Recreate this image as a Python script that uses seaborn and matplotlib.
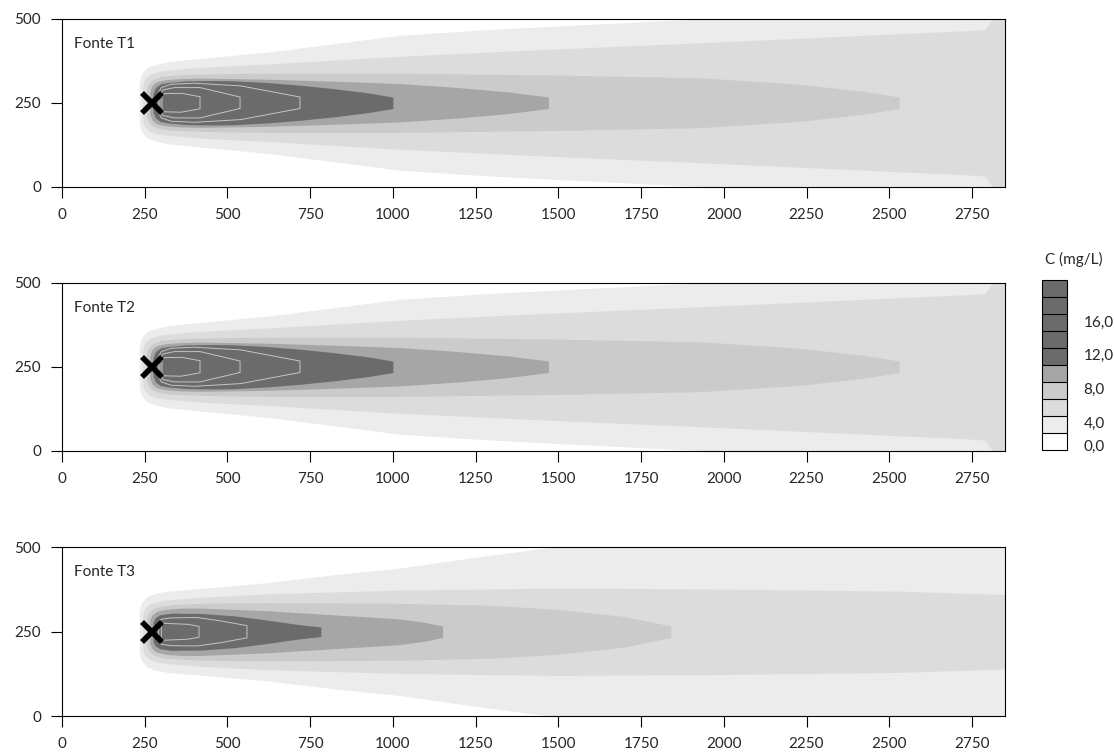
import matplotlib
matplotlib.use("Agg")
import matplotlib as mpl
import matplotlib.pyplot as plt
import seaborn as sns
from matplotlib.colors import ListedColormap, BoundaryNorm

# --- values ------------------------------------------------------------
panel_titles = ["Fonte T1", "Fonte T2", "Fonte T3"]
source_x, source_y = 272, 250
plume_axis = 250
x_ticks = [0, 250, 500, 750, 1000, 1250, 1500, 1750, 2000, 2250, 2500, 2750]
y_ticks = [0, 250, 500]
cbar_bounds = [0, 2, 4, 6, 8, 10, 12, 14, 16, 18, 20]
cbar_labels = ["0,0", "4,0", "8,0", "12,0", "16,0"]
# where the labels sit along the bar (they sit a little under the block edges)
cbar_label_pos = [0.6, 3.3, 7.2, 11.2, 15.1]

# filled bands (C >= level): x positions and half-widths about y=250
t1_c2_x = [233, 240, 255, 280, 320, 420, 620, 820, 1020, 1250, 1500, 1750, 2000, 2850]
t1_c2_hw = [60, 85, 103, 113, 122, 132, 150, 175, 200, 215, 228, 240, 252, 260]
t1_c4_x = [243, 250, 265, 290, 330, 420, 620, 1020, 1500, 1930, 2330, 2735, 2790, 2815, 2850]
t1_c4_hw = [50, 72, 85, 93, 98, 105, 115, 138, 160, 178, 196, 214, 218, 255, 260]
t1_c6_x = [255, 262, 275, 300, 340, 420, 620, 1020, 1500, 1930, 2230, 2430, 2530]
t1_c6_hw = [40, 58, 70, 78, 82, 85, 88, 88, 82, 74, 55, 33, 17]
t1_c8_x = [265, 272, 285, 310, 360, 420, 620, 820, 1020, 1200, 1350, 1470]
t1_c8_hw = [35, 52, 62, 68, 72, 73, 70, 64, 57, 45, 32, 17]
t1_c10_x = [275, 282, 295, 320, 377, 450, 520, 620, 720, 820, 920, 1000]
t1_c10_hw = [28, 45, 55, 60, 65, 66, 65, 60, 52, 42, 30, 17]
# contour lines inside the darkest band
t1_c12_x = [292, 300, 330, 400, 540, 719]
t1_c12_hw = [30, 45, 55, 58, 50, 17]
t1_c14_x = [296, 305, 340, 417, 538]
t1_c14_hw = [25, 38, 45, 45, 17]
t1_c16_x = [302, 310, 360, 417]
t1_c16_hw = [18, 27, 28, 18]

# T2 reads the same as T1 in the picture
t2_c2_x, t2_c2_hw = list(t1_c2_x), list(t1_c2_hw)
t2_c4_x, t2_c4_hw = list(t1_c4_x), list(t1_c4_hw)
t2_c6_x, t2_c6_hw = list(t1_c6_x), list(t1_c6_hw)
t2_c8_x, t2_c8_hw = list(t1_c8_x), list(t1_c8_hw)
t2_c10_x, t2_c10_hw = list(t1_c10_x), list(t1_c10_hw)
t2_c12_x, t2_c12_hw = list(t1_c12_x), list(t1_c12_hw)
t2_c14_x, t2_c14_hw = list(t1_c14_x), list(t1_c14_hw)
t2_c16_x, t2_c16_hw = list(t1_c16_x), list(t1_c16_hw)

t3_c2_x = [233, 240, 255, 280, 320, 420, 620, 820, 1020, 1250, 1500, 2850]
t3_c2_hw = [60, 85, 103, 113, 120, 128, 145, 168, 188, 220, 252, 260]
t3_c4_x = [243, 250, 265, 290, 330, 420, 620, 1020, 1500, 2000, 2530, 2850]
t3_c4_hw = [50, 70, 82, 90, 95, 102, 112, 123, 129, 126, 120, 110]
t3_c6_x = [255, 262, 275, 300, 340, 420, 620, 1020, 1300, 1500, 1700, 1840]
t3_c6_hw = [40, 56, 68, 76, 80, 84, 86, 84, 78, 66, 45, 17]
t3_c8_x = [265, 272, 285, 310, 360, 420, 620, 820, 1021, 1100, 1150]
t3_c8_hw = [35, 50, 60, 66, 70, 70, 62, 50, 38, 27, 17]
t3_c10_x = [275, 282, 295, 330, 420, 520, 609, 709, 782]
t3_c10_hw = [28, 42, 50, 55, 54, 47, 36, 22, 14]
t3_c12_x = [292, 300, 330, 408, 480, 559]
t3_c12_hw = [28, 37, 41, 42, 32, 18]
t3_c14_x = [300, 306, 380, 414]
t3_c14_hw = [18, 25, 22, 16]

# --- style ------------------------------------------------------------------
band_colors = ["#ececec", "#dcdcdc", "#cbcbcb", "#a6a6a6", "#6b6b6b"]
cbar_colors = ["#ffffff", "#ececec", "#dcdcdc", "#cbcbcb", "#a6a6a6",
               "#6b6b6b", "#6b6b6b", "#6b6b6b", "#6b6b6b", "#6b6b6b"]
line_color = "#c4c4c4"

sns.set_theme(style="white")
plt.rcParams["font.family"] = ["Lato", "DejaVu Sans"]
plt.rcParams["font.size"] = 11

panels = [
    ([(t1_c2_x, t1_c2_hw), (t1_c4_x, t1_c4_hw), (t1_c6_x, t1_c6_hw), (t1_c8_x, t1_c8_hw), (t1_c10_x, t1_c10_hw)],
     [(t1_c12_x, t1_c12_hw), (t1_c14_x, t1_c14_hw), (t1_c16_x, t1_c16_hw)]),
    ([(t2_c2_x, t2_c2_hw), (t2_c4_x, t2_c4_hw), (t2_c6_x, t2_c6_hw), (t2_c8_x, t2_c8_hw), (t2_c10_x, t2_c10_hw)],
     [(t2_c12_x, t2_c12_hw), (t2_c14_x, t2_c14_hw), (t2_c16_x, t2_c16_hw)]),
    ([(t3_c2_x, t3_c2_hw), (t3_c4_x, t3_c4_hw), (t3_c6_x, t3_c6_hw), (t3_c8_x, t3_c8_hw), (t3_c10_x, t3_c10_hw)],
     [(t3_c12_x, t3_c12_hw), (t3_c14_x, t3_c14_hw)]),
]

fig = plt.figure(figsize=(11.14, 7.53), dpi=100)
ax_rects = [[0.0557, 0.7517, 0.8465, 0.2237],
            [0.0557, 0.4011, 0.8465, 0.2237],
            [0.0557, 0.0485, 0.8465, 0.2250]]

for rect, title, (bands, lines) in zip(ax_rects, panel_titles, panels):
    ax = fig.add_axes(rect)
    for (xs, hw), col in zip(bands, band_colors):
        lo = [plume_axis - h for h in hw]
        hi = [plume_axis + h for h in hw]
        ax.fill_between(xs, lo, hi, color=col, lw=0, zorder=1)
    for xs, hw in lines:
        px = list(xs) + list(xs[::-1]) + [xs[0]]
        py = [plume_axis + h for h in hw] + [plume_axis - h for h in hw[::-1]] + [plume_axis + hw[0]]
        sns.lineplot(x=px, y=py, sort=False, estimator=None, color=line_color,
                     lw=0.7, ax=ax, zorder=2)
    ax.plot(source_x, source_y, marker="x", ms=15, mew=4, color="black", zorder=5)
    ax.text(0.013, 0.85, title, transform=ax.transAxes, va="center", ha="left", fontsize=11)

    ax.set_xlim(0, 2850)
    ax.set_ylim(0, 500)
    ax.set_xticks(x_ticks)
    ax.set_yticks(y_ticks)
    ax.tick_params(axis="both", direction="out", length=8, width=0.8, color="black",
                   labelsize=11, pad=7, bottom=True, left=True)
    for sp in ax.spines.values():
        sp.set_visible(True)
        sp.set_color("black")
        sp.set_linewidth(0.8)

cax = fig.add_axes([0.9354, 0.4024, 0.0224, 0.2258])
cmap = ListedColormap(cbar_colors)
norm = BoundaryNorm(cbar_bounds, cmap.N)
cb = fig.colorbar(mpl.cm.ScalarMappable(norm=norm, cmap=cmap), cax=cax,
                  drawedges=True, spacing="proportional")
cb.minorticks_off()
cb.set_ticks(cbar_label_pos)
cb.ax.set_yticklabels(cbar_labels)
cb.ax.tick_params(which="both", length=0, pad=12, labelsize=11)
cb.outline.set_edgecolor("black")
cb.outline.set_linewidth(0.8)
cb.dividers.set_color("black")
cb.dividers.set_linewidth(0.8)
fig.text(0.9381, 0.655, "C (mg/L)", ha="left", va="center", fontsize=11)

fig.savefig("out.png", dpi=100)
